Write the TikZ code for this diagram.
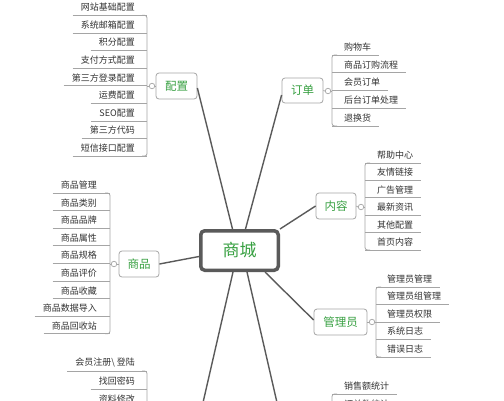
\documentclass[tikz,border=0pt]{standalone}
\usepackage{fontspec}
\setmainfont{Noto Sans CJK SC}
\usetikzlibrary{calc}
\definecolor{tgreen}{RGB}{55,160,65}
\definecolor{tline}{RGB}{90,90,90}
\definecolor{tbox}{RGB}{165,165,165}
\definecolor{ttext}{RGB}{50,50,50}
\begin{document}
\begin{tikzpicture}[x=1pt,y=-1pt,
  hub/.style={draw=tline, line width=3.5pt, rounded corners=4pt, fill=white, minimum width=77.5pt, minimum height=39.5pt, inner sep=0pt, text=tgreen, font=\fontsize{17}{20}\selectfont},
  topic/.style={draw=tbox, line width=0.8pt, rounded corners=3pt, fill=white, minimum height=26pt, inner sep=0pt, text=tgreen, font=\fontsize{11.5}{13}\selectfont},
  knob/.style={circle, draw=tbox, line width=0.7pt, fill=white, inner sep=0pt, minimum size=5.5pt},
  itemtext/.style={inner sep=0pt, text=ttext, font=\fontsize{9}{10}\selectfont},
  uline/.style={draw=tbox, line width=0.8pt},
  bracket/.style={draw=tbox, line width=0.8pt, rounded corners=2.5pt},
  spoke/.style={draw=tline, line width=1.4pt}]
\useasboundingbox (0,0) rectangle (504,400);
\fill[white] (0,0) rectangle (504,400);
\clip (0,0) rectangle (504,400);

% ---------- topic boxes ----------
\node[hub] (zx) at (239.5,250.5) {商城};
\node[topic, minimum width=41pt] (pzb) at (176.5,86) {配置};
\node[topic, minimum width=41pt, minimum height=25pt] (ddb) at (302.5,90.5) {订单};
\node[topic, minimum width=40pt] (nrb) at (336,206) {内容};
\node[topic, minimum width=40pt] (spb) at (139,264) {商品};
\node[topic, minimum width=53pt] (glb) at (340.5,322) {管理员};
\coordinate (hyb) at (199,420);
\coordinate (tjb) at (281,420);

% ---------- spokes ----------
\draw[spoke] ([xshift=-7pt]zx.north) -- ([yshift=-2pt]pzb.east);
\draw[spoke] ([xshift=6pt]zx.north) -- ([yshift=-4.5pt]ddb.west);
\draw[spoke] (zx.north east) -- (nrb.west);
\draw[spoke] ([yshift=-6pt]zx.west) -- (spb.east);
\draw[spoke] ([xshift=-15pt]zx.south east) -- ([yshift=2pt]glb.west);
\draw[spoke] ([xshift=-6.5pt]zx.south) -- (hyb);
\draw[spoke] ([xshift=7.5pt]zx.south) -- (tjb);

% ---------- 配置 list (left) ----------
\coordinate (pzbr) at (147,0);
\foreach \t [count=\i] in {网站基础配置,系统邮箱配置,积分配置,支付方式配置,第三方登录配置,运费配置,SEO配置,第三方代码,短信接口配置} {
  \node[itemtext, anchor=east] (pz\i) at (135,{7.3+17.6*(\i-1)}) {\t};
  \draw[uline] ($(pz\i.west)+(-8,8)$) -- ($(pz\i.west -| pzbr)+(0,8)$);
}
\draw[bracket] ($(pz1.west -| pzbr)+(-5,8)$) -- ($(pz1.west -| pzbr)+(0,8)$) -- ($(pz9.west -| pzbr)+(0,8)$) -- ($(pz9.west -| pzbr)+(-5,8)$);
\node[knob] (pzc) at (152,86) {};
\draw[uline] (pzc.west) -- (pzc.west -| pzbr);
\draw[uline] (pzc.east) -- (pzb.west);

% ---------- 订单 list (right) ----------
\coordinate (ddbr) at (332,0);
\foreach \t [count=\i] in {购物车,商品订购流程,会员订单,后台订单处理,退换货} {
  \node[itemtext, anchor=west] (dd\i) at (344,{47+17.75*(\i-1)}) {\t};
  \draw[uline] ($(dd\i.west -| ddbr)+(0,8)$) -- ($(dd\i.east)+(8,8)$);
}
\draw[bracket] ($(dd1.west -| ddbr)+(5,8)$) -- ($(dd1.west -| ddbr)+(0,8)$) -- ($(dd5.west -| ddbr)+(0,8)$) -- ($(dd5.west -| ddbr)+(5,8)$);
\node[knob] (ddc) at (328,91) {};
\draw[uline] (ddb.east) -- (ddc.west);
\draw[uline] (ddc.east) -- (ddc.east -| ddbr);

% ---------- 内容 list (right) ----------
\coordinate (nrbr) at (365,0);
\foreach \t [count=\i] in {帮助中心,友情链接,广告管理,最新资讯,其他配置,首页内容} {
  \node[itemtext, anchor=west] (nr\i) at (377,{155+17.4*(\i-1)}) {\t};
  \draw[uline] ($(nr\i.west -| nrbr)+(0,8)$) -- ($(nr\i.east)+(8,8)$);
}
\draw[bracket] ($(nr1.west -| nrbr)+(5,8)$) -- ($(nr1.west -| nrbr)+(0,8)$) -- ($(nr6.west -| nrbr)+(0,8)$) -- ($(nr6.west -| nrbr)+(5,8)$);
\node[knob] (nrc) at (361,207) {};
\draw[uline] (nrb.east) -- (nrc.west);
\draw[uline] (nrc.east) -- (nrc.east -| nrbr);

% ---------- 商品 list (left) ----------
\coordinate (spbr) at (110,0);
\foreach \t [count=\i] in {商品管理,商品类别,商品品牌,商品属性,商品规格,商品评价,商品收藏,商品数据导入,商品回收站} {
  \node[itemtext, anchor=east] (sp\i) at (97,{185+17.6*(\i-1)}) {\t};
  \draw[uline] ($(sp\i.west)+(-8,8)$) -- ($(sp\i.west -| spbr)+(0,8)$);
}
\draw[bracket] ($(sp1.west -| spbr)+(-5,8)$) -- ($(sp1.west -| spbr)+(0,8)$) -- ($(sp9.west -| spbr)+(0,8)$) -- ($(sp9.west -| spbr)+(-5,8)$);
\node[knob] (spc) at (114,264) {};
\draw[uline] (spc.west) -- (spc.west -| spbr);
\draw[uline] (spc.east) -- (spb.west);

% ---------- 管理员 list (right) ----------
\coordinate (glbr) at (376,0);
\foreach \t [count=\i] in {管理员管理,管理员组管理,管理员权限,系统日志,错误日志} {
  \node[itemtext, anchor=west] (gl\i) at (387,{279+17.5*(\i-1)}) {\t};
  \draw[uline] ($(gl\i.west -| glbr)+(0,8)$) -- ($(gl\i.east)+(8,8)$);
}
\draw[bracket] ($(gl1.west -| glbr)+(5,8)$) -- ($(gl1.west -| glbr)+(0,8)$) -- ($(gl5.west -| glbr)+(0,8)$) -- ($(gl5.west -| glbr)+(5,8)$);
\node[knob] (glc) at (372,322) {};
\draw[uline] (glb.east) -- (glc.west);
\draw[uline] (glc.east) -- (glc.east -| glbr);

% ---------- bottom-left list (partly visible) ----------
\coordinate (hybr) at (147,0);
\foreach \t [count=\i] in {会员注册\textbackslash{} 登陆,找回密码,资料修改} {
  \node[itemtext, anchor=east] (hy\i) at (135,{363+18*(\i-1)}) {\t};
  \draw[uline] ($(hy\i.west)+(-8,8)$) -- ($(hy\i.west -| hybr)+(0,8)$);
}
\draw[bracket] ($(hy1.west -| hybr)+(-5,8)$) -- ($(hy1.west -| hybr)+(0,8)$) -- ($(hy3.west -| hybr)+(0,8)$);

% ---------- bottom-right list (partly visible) ----------
\coordinate (tjbr) at (332,0);
\foreach \t [count=\i] in {销售额统计,订单数统计} {
  \node[itemtext, anchor=west] (tj\i) at (344,{386+18*(\i-1)}) {\t};
  \draw[uline] ($(tj\i.west -| tjbr)+(0,8)$) -- ($(tj\i.east)+(8,8)$);
}
\draw[bracket] ($(tj1.west -| tjbr)+(5,8)$) -- ($(tj1.west -| tjbr)+(0,8)$) -- ($(tj2.west -| tjbr)+(0,8)$);
\end{tikzpicture}
\end{document}
